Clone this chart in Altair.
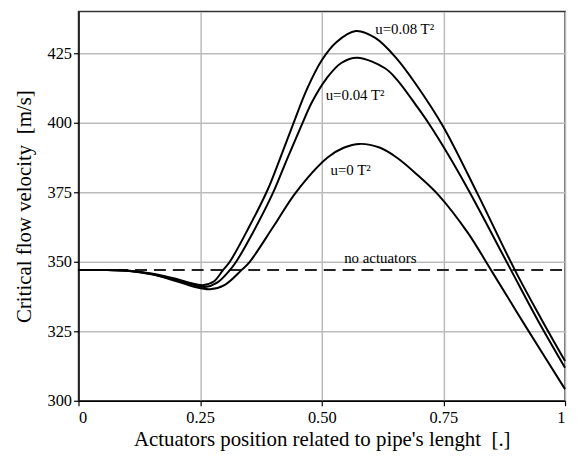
import altair as alt
import pandas as pd

# u = 0 T^2
c0_x = [0, 0.06, 0.1, 0.15, 0.2, 0.24, 0.27, 0.3, 0.335, 0.352, 0.4, 0.447, 0.512, 0.545, 0.578, 0.62, 0.654, 0.695, 0.74, 0.8, 0.848, 0.92, 1.0]
c0_y = [347, 347, 346.8, 345.5, 343.1, 340.9, 340.1, 341.6, 347, 350, 362.5, 375, 387.5, 391, 392.4, 391, 387.5, 381.5, 374, 360.5, 347, 326.5, 304.2]
# u = 0.04 T^2
c04_x = [0, 0.06, 0.1, 0.15, 0.2, 0.235, 0.26, 0.285, 0.311, 0.324, 0.36, 0.399, 0.43, 0.457, 0.48, 0.51, 0.54, 0.573, 0.63, 0.654, 0.695, 0.719, 0.76, 0.804, 0.889, 0.944, 1.0]
c04_y = [347, 347, 346.8, 345.6, 343.4, 341.7, 340.9, 342.5, 347, 350, 361, 374.5, 387.5, 398.5, 407.5, 416, 421.5, 423.4, 419.6, 415.6, 406, 400, 388.5, 375, 347, 329, 311.9]
# u = 0.08 T^2
c08_x = [0, 0.06, 0.1, 0.15, 0.2, 0.23, 0.255, 0.278, 0.297, 0.311, 0.35, 0.389, 0.415, 0.44, 0.47, 0.5, 0.53, 0.57, 0.61, 0.654, 0.695, 0.75, 0.82, 0.897, 0.95, 1.0]
c08_y = [347, 347, 346.9, 345.8, 343.9, 342.4, 341.6, 342.9, 347, 350, 362.3, 376, 387.5, 399, 412.3, 422.5, 429, 433, 430.5, 423.1, 413.5, 398.5, 374.5, 347, 329.8, 314.3]

series_names = ["u=0", "u=0.04", "u=0.08"]

no_act_x = [0, 1]
no_act_y = [347, 347]

label_text = ["u=0.08 T\u00b2", "u=0.04 T\u00b2", "u=0 T\u00b2"]
label_x = [0.61, 0.508, 0.518]
label_y = [433.6, 410, 383]

na_text = ["no actuators"]
na_x = [0.546]
na_y = [351.5]

x_ticks = [0, 0.25, 0.5, 0.75, 1]
y_ticks = [300, 325, 350, 375, 400, 425]

rows = []
for name, xs, ys in zip(series_names, [c0_x, c04_x, c08_x], [c0_y, c04_y, c08_y]):
    for a, b in zip(xs, ys):
        rows.append({"series": name, "x": a, "y": b})
curves = pd.DataFrame(rows)
dash_df = pd.DataFrame({"x": no_act_x, "y": no_act_y})
labels_df = pd.DataFrame({"t": label_text, "x": label_x, "y": label_y})
na_df = pd.DataFrame({"t": na_text, "x": na_x, "y": na_y})

FONT = "'Liberation Serif', 'Times New Roman', serif"

xscale = alt.Scale(domain=[0, 1], nice=False, zero=False)
yscale = alt.Scale(domain=[300, 440], nice=False, zero=False)

xaxis = alt.Axis(
    values=x_ticks,
    labelExpr="datum.value == 0 ? '0' : datum.value == 1 ? '1' : format(datum.value, '.2f')",
    title="Actuators position related to pipe's lenght\u00a0 [.]",
)
yaxis = alt.Axis(values=y_ticks, title="Critical flow velocity\u00a0 [m/s]")

lines = alt.Chart(curves).mark_line(
    color="black", strokeWidth=2, interpolate="catmull-rom"
).encode(
    x=alt.X("x:Q", scale=xscale, axis=xaxis),
    y=alt.Y("y:Q", scale=yscale, axis=yaxis),
    detail="series:N",
)

dash = alt.Chart(dash_df).mark_line(
    color="#222222", strokeWidth=2, strokeDash=[12, 7]
).encode(x=alt.X("x:Q", scale=xscale), y=alt.Y("y:Q", scale=yscale))

labels = alt.Chart(labels_df).mark_text(
    font=FONT, fontSize=15, align="left", baseline="middle", color="black"
).encode(x=alt.X("x:Q", scale=xscale), y=alt.Y("y:Q", scale=yscale), text="t:N")

na = alt.Chart(na_df).mark_text(
    font=FONT, fontSize=15, align="left", baseline="middle", color="black"
).encode(x=alt.X("x:Q", scale=xscale), y=alt.Y("y:Q", scale=yscale), text="t:N")

chart = alt.layer(dash, lines, labels, na).properties(
    width=490, height=392,
    autosize=alt.AutoSizeParams(type="none"),
    padding={"left": 71, "top": 2, "right": 4, "bottom": 50},
).configure_view(
    stroke="#333333", strokeWidth=1.5
).configure_axis(
    labelFont=FONT, titleFont=FONT, labelFontSize=16.5, titleFontSize=21,
    titleFontWeight="normal", labelColor="black", titleColor="black",
    domainColor="black", domainWidth=1.5, tickColor="black", tickSize=5, tickWidth=1.2,
    gridColor="#bbbbbb", gridWidth=1.5,
).configure_axisX(
    labelPadding=4, titlePadding=3,
).configure_axisY(
    labelPadding=2, titlePadding=13,
)

chart.save("out.html", embed_options={"renderer": "svg", "actions": False})
